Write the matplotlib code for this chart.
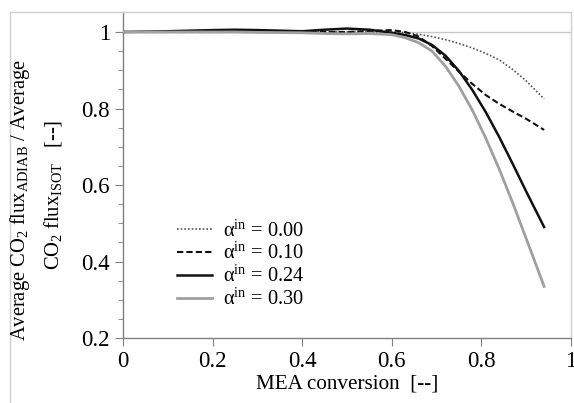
import numpy as np
import matplotlib
matplotlib.use("Agg")
import matplotlib.pyplot as plt
from matplotlib.lines import Line2D

plt.rcParams['font.family'] = ['Liberation Serif', 'DejaVu Serif']
plt.rcParams['mathtext.fontset'] = 'custom'
plt.rcParams['mathtext.rm'] = 'Liberation Serif'
plt.rcParams['mathtext.it'] = 'Liberation Serif:italic'
plt.rcParams['mathtext.bf'] = 'Liberation Serif:bold'

# ---- data ----
conversion = [0, 0.1, 0.2, 0.25, 0.3, 0.4, 0.45, 0.5, 0.55, 0.6, 0.63, 0.66,
              0.69, 0.72, 0.75, 0.78, 0.81, 0.84, 0.87, 0.9, 0.94]
ratio_000 = [1, 1, 1, 1, 1, 1, 1, 1, 1, 1.0, 0.998, 0.994,
             0.988, 0.98, 0.97, 0.958, 0.944, 0.927, 0.902, 0.872, 0.825]
ratio_010 = [1, 1, 1, 1, 1, 1, 1, 1.0, 1.003, 1.005, 1.0, 0.988,
             0.963, 0.93, 0.896, 0.864, 0.835, 0.812, 0.792, 0.773, 0.744]
ratio_024 = [1, 1.002, 1.005, 1.006, 1.005, 1.002, 1.006, 1.009, 1.006, 0.998, 0.992, 0.983,
             0.966, 0.938, 0.898, 0.848, 0.79, 0.725, 0.655, 0.583, 0.49]
ratio_030 = [1, 1, 1, 1, 0.999, 0.998, 0.996, 0.995, 0.996, 0.993, 0.985, 0.972,
             0.95, 0.91, 0.858, 0.795, 0.722, 0.641, 0.553, 0.46, 0.335]
labels = ['0.00', '0.10', '0.24', '0.30']

W, H = 574, 403
fig = plt.figure(figsize=(W / 100, H / 100), dpi=100)
ax = fig.add_axes([123 / W, 1 - 338 / H, (571 - 123) / W, (338 - 12) / H])

ax.axhline(1.0, color='#c8c8c8', lw=1.0, zorder=1)

styles = [
    dict(color='#555555', lw=1.2, ls=(0, (1, 1.2))),
    dict(color='#111111', lw=1.5, ls=(0, (3, 1.5))),
    dict(color='#111111', lw=1.8, ls='-'),
    dict(color='#a0a0a0', lw=2.0, ls='-'),
]
series = [ratio_000, ratio_010, ratio_024, ratio_030]
handles = []
for ys, st, lab in zip(series, styles, labels):
    h, = ax.plot(conversion, ys, label='α$^{\\rm in}$ = ' + lab, zorder=3, **st)
    handles.append(h)

ax.set_xlim(0, 1)
ax.set_ylim(0.2, 1.0523)
ax.set_xticks([0, 0.2, 0.4, 0.6, 0.8, 1])
ax.set_xticklabels(['0', '0.2', '0.4', '0.6', '0.8', '1'])
ax.set_yticks([0.2, 0.4, 0.6, 0.8, 1.0])
ax.set_yticklabels(['0.2', '0.4', '0.6', '0.8', '1'])
ax.set_yticks(np.arange(0.25, 1.0, 0.05), minor=True)

for s in ['left', 'bottom']:
    ax.spines[s].set_color('#808080')
    ax.spines[s].set_linewidth(1.0)
for s in ['top', 'right']:
    ax.spines[s].set_color('#d0d0d0')
    ax.spines[s].set_linewidth(1.0)

ax.tick_params(axis='both', which='major', labelsize=16.5, color='#808080',
               direction='out', length=5.5, pad=4, top=False, right=False)
ax.tick_params(axis='y', which='minor', color='#808080', direction='out', length=3.5)

ax.set_xlabel('MEA conversion  [--]', fontsize=15.2, labelpad=2)

# two-line y label
fig.text(20 / W, 1 - 200 / H, 'Average CO$_2$ flux$_{\\rm ADIAB}$ / Average',
         rotation=90, ha='center', va='center', fontsize=14.8)
fig.text(53 / W, 1 - 195 / H, 'CO$_2$ flux$_{\\rm ISOT}$   [--]',
         rotation=90, ha='center', va='center', fontsize=14.8)

# light frame around the figure
fig.add_artist(Line2D([10 / W, 123 / W], [1 - 12 / H, 1 - 12 / H],
                      transform=fig.transFigure, color='#d0d0d0', lw=1.0))
fig.add_artist(Line2D([10 / W, 10 / W], [1 - 12 / H, 0],
                      transform=fig.transFigure, color='#d0d0d0', lw=1.0))

ax.legend(handles=handles, loc='center left', frameon=False, fontsize=14.7,
          bbox_to_anchor=(177 / W, 1 - 265 / H), bbox_transform=fig.transFigure,
          borderpad=0, borderaxespad=0, handlelength=1.7, handletextpad=0.55,
          labelspacing=0.08)

fig.savefig('out.png', dpi=100)
